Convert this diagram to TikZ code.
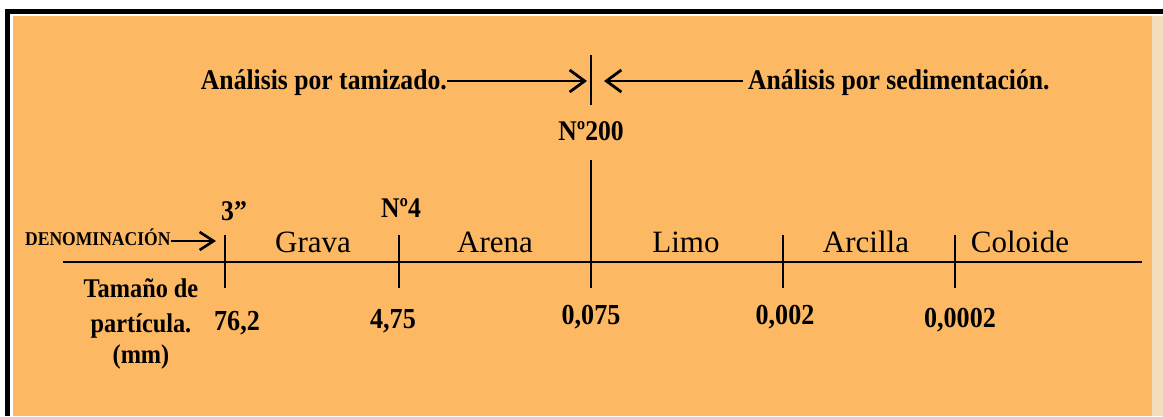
\documentclass[tikz,border=0pt]{standalone}
\usepackage{fontspec}
\setmainfont{Liberation Serif}
\newfontfamily\condserif[FakeStretch=0.9]{Liberation Serif}
\usetikzlibrary{arrows.meta}
\definecolor{panel}{RGB}{253,184,99}
\definecolor{edge}{RGB}{242,222,186}
\tikzset{
  frameline/.style={line width=4.5pt, black},
  axisline/.style={line width=2.4pt, black},
  tickline/.style={line width=2.4pt, black},
  pointer/.style={line width=2.8pt, -{Straight Barb[length=15pt,width=22pt]}},
  smallpointer/.style={line width=2.6pt, -{Straight Barb[length=14pt,width=18pt]}},
  headtext/.style={font=\condserif\fontsize{28.5}{32}\selectfont\bfseries, inner sep=0pt, anchor=base},
  zonetext/.style={font=\fontsize{31}{36}\selectfont, inner sep=0pt, anchor=base},
  valtext/.style={font=\condserif\fontsize{29}{32}\selectfont\bfseries, inner sep=0pt, anchor=base},
  sidetext/.style={font=\condserif\fontsize{27}{30}\selectfont\bfseries, inner sep=0pt, anchor=base},
  captext/.style={font=\condserif\fontsize{19.5}{22}\selectfont\bfseries, inner sep=0pt, anchor=base west},
}
\begin{document}
\begin{tikzpicture}[x=1pt,y=-1pt]
\useasboundingbox (0,0) rectangle (1163,416);
% panel and frame
\fill[white] (0,0) rectangle (1163,416);
\fill[panel] (12.5,15.5) rectangle (1152,416);
\fill[edge] (1152,15.5) rectangle (1163,416);
\draw[frameline] (5,11.3) -- (1163,11.3);
\draw[frameline] (7.5,9) -- (7.5,416);

% sieve / sedimentation boundary
\coordinate (divT) at (591,55);
\coordinate (divB) at (591,105);
\draw[tickline, line width=2.6pt] (divT) -- (divB);
\node[headtext, anchor=base east] (tam) at (447,89) {Análisis por tamizado.};
\node[headtext, anchor=base west] (sed) at (748,89) {Análisis por sedimentación.};
\coordinate (tipL) at (587,81);
\coordinate (tipR) at (604,81);
\draw[pointer] (tam.east |- tipL) -- (tipL);
\draw[pointer] ([xshift=-5pt]sed.west |- tipR) -- (tipR);
\node[headtext] (n200) at (591,140) {Nº200};

% scale axis
\coordinate (axL) at (63,262);
\coordinate (axR) at (1142,262);
\draw[axisline] (axL) -- (axR);

% ticks
\coordinate (k1t) at (225,235); \coordinate (k1b) at (225,288);
\coordinate (k2t) at (399,235); \coordinate (k2b) at (399,288);
\coordinate (k3t) at (591,160); \coordinate (k3b) at (591,288);
\coordinate (k4t) at (783,235); \coordinate (k4b) at (783,288);
\coordinate (k5t) at (955,235); \coordinate (k5b) at (955,288);
\foreach \k in {k1,k2,k3,k4,k5} \draw[tickline] (\k t) -- (\k b);

% sieve names above ticks
\node[headtext] (s3) at (234,220) {3”};
\node[headtext] (s4) at (401,217) {Nº4};

% soil classes
\node[zonetext] (grava) at (313,252) {Grava};
\node[zonetext] (arena) at (495,252) {Arena};
\node[zonetext] (limo) at (686,252) {Limo};
\node[zonetext] (arcilla) at (866,252) {Arcilla};
\node[zonetext] (coloide) at (1020,252) {Coloide};

% row labels
\node[captext] (deno) at (25,245) {DENOMINACIÓN};
\coordinate (denoTip) at (216,241);
\draw[smallpointer] (deno.east |- denoTip) -- (denoTip);
\node[sidetext] (tm1) at (141,297) {Tamaño de};
\node[sidetext] (tm2) at (141,332) {partícula.};
\node[sidetext] (tm3) at (141,363) {(mm)};

% particle sizes
\node[valtext] (v1) at (237,330) {76,2};
\node[valtext] (v2) at (393,328) {4,75};
\node[valtext] (v3) at (591,324) {0,075};
\node[valtext] (v4) at (785,324) {0,002};
\node[valtext] (v5) at (960,327) {0,0002};
\end{tikzpicture}
\end{document}
